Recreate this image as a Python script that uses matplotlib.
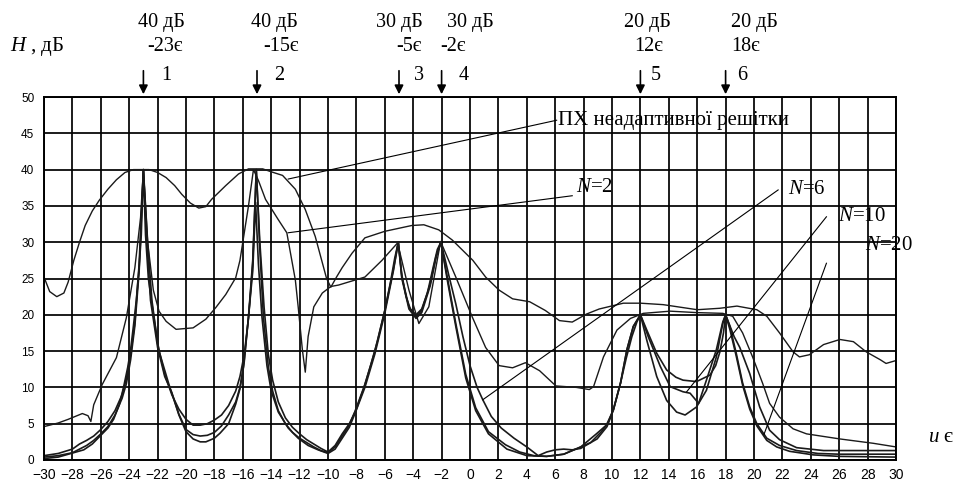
import matplotlib
matplotlib.use("Agg")
import matplotlib.pyplot as plt

# --- data (u in degrees, H in dB) ---
px_x = [-30, -29.6, -29.1, -28.6, -28.3, -27.9, -27.5, -27.1, -26.6, -26.1, -25.5, -24.9, -24.3, -23.7,
        -22.6, -22.0, -21.4, -20.8, -20.3, -19.7, -19.1, -18.6, -18.2, -17.2, -16.3, -15.6, -14.6, -14.0,
        -13.2, -12.3, -11.6, -10.9, -10.1, -9.8, -9.4, -9.0, -8.3, -7.4, -6.0, -4.1, -3.25, -2.2, -1.25,
        0.2, 1.1, 2.05, 3.0, 4.2, 5.3, 6.3, 7.2, 8.2, 9.1, 10.8, 12.0, 13.6, 16.0, 17.6, 18.8, 20.2, 20.9,
        21.8, 22.75, 23.2, 23.9, 24.9, 26.05, 27.0, 27.9, 28.9, 29.3, 30.0]
px_y = [25.2, 23.2, 22.5, 23.0, 24.5, 27.5, 30.0, 32.3, 34.3, 35.8, 37.3, 38.6, 39.6, 40.0,
        40.0, 39.6, 38.9, 37.8, 36.6, 35.4, 34.7, 34.9, 35.9, 37.8, 39.4, 40.1, 40.1, 39.7,
        39.2, 37.3, 34.5, 30.8, 25.0, 23.8, 25.2, 26.5, 28.5, 30.6, 31.5, 32.3, 32.4, 31.7, 30.3,
        27.5, 25.2, 23.4, 22.2, 21.8, 20.6, 19.2, 19.0, 20.1, 20.8, 21.6, 21.6, 21.4, 20.7, 20.9, 21.2, 20.7, 19.8,
        17.5, 14.9, 14.2, 14.5, 15.9, 16.6, 16.3, 14.9, 13.8, 13.3, 13.7]

n2_x = [-30, -29, -28.3, -27.8, -27.3, -26.9, -26.7, -26.5, -25.9, -24.9, -24.2, -23.6, -23.2, -23.0,
        -22.7, -22.3, -21.9, -21.4, -20.7, -19.5, -18.6, -17.9, -17.2, -16.5, -16.2, -15.6, -15.25,
        -14.9, -14.4, -13.5, -12.9, -12.3, -12.1, -11.8, -11.6, -11.4, -11.0, -10.4, -9.8, -9.25, -7.4,
        -6.2, -5.1, -4.3, -3.6, -2.9, -2.07, -1.0, 0.16, 1.1, 2.05, 3.0, 3.9, 4.9, 6.05, 7.5, 8.4, 8.7,
        9.4, 10.35, 11.3, 12.2, 14.1, 16.0, 17.8, 18.5, 19.2, 19.9, 20.6, 21.1, 21.8, 22.75, 23.7, 26.05,
        28.4, 30.0]
n2_y = [4.6, 5.1, 5.6, 6.0, 6.4, 6.1, 5.3, 7.6, 10.4, 14.1, 19.6, 26.5, 33.4, 40.0,
        30.0, 23.4, 20.5, 19.1, 18.0, 18.2, 19.4, 21.0, 22.8, 25.1, 27.5, 35.0, 40.0,
        38.5, 35.9, 33.1, 31.3, 24.8, 21.1, 15.1, 12.1, 17.0, 21.1, 23.0, 23.9, 24.1, 25.2,
        27.5, 29.9, 23.4, 18.8, 21.1, 30.1, 25.2, 19.7, 15.5, 13.0, 12.7, 13.4, 12.3, 10.2, 10.0, 9.7, 10.1,
        14.2, 17.9, 19.5, 20.2, 20.5, 20.3, 20.2, 19.8, 17.5, 14.2, 10.6, 7.8, 5.9, 4.3, 3.6, 2.9,
        2.3, 1.8]

n6_x = [-30, -29, -28, -27.5, -27, -26.5, -26, -25.5, -25, -24.5, -24.2, -23.9, -23.6, -23.3, -23.0,
        -22.7, -22.4, -22.0, -21.5, -21.0, -20.5, -20.0, -19.5, -19.0, -18.5, -18.0, -17.5, -17.0, -16.5,
        -16.2, -15.9, -15.6, -15.3, -15.05, -14.8, -14.5, -14.2, -13.9, -13.5, -13.0, -12.5, -12.0, -11.5,
        -11.0, -10.5, -10.0, -9.5, -9.0, -8.5, -8.0, -7.5, -7.0, -6.5, -6.0, -5.6, -5.3, -5.05, -4.8, -4.5,
        -4.2, -3.8, -3.4, -3.0, -2.6, -2.3, -2.05, -1.8, -1.5, -1.0, -0.5, 0.0, 0.5, 0.9, 1.5, 2.2, 3.1,
        4.0, 4.8, 5.4, 6.0, 6.6, 7.2, 7.8, 8.5, 9.2, 9.7, 10.1, 10.6, 11.0, 11.4, 11.75, 12.0, 12.45, 13.15,
        13.85, 14.5, 15.0, 15.95, 16.9, 17.3, 17.6, 17.85, 18.0, 18.3, 18.6, 19.0, 19.7, 20.4, 21.1, 21.8,
        23.0, 24.9, 27.0, 30.0]
n6_y = [0.6, 0.9, 1.5, 2.2, 2.7, 3.3, 4.2, 5.3, 6.8, 9.0, 11.2, 14.5, 19.0, 27.0, 40.0,
        30.0, 22.0, 16.0, 11.8, 9.0, 7.0, 5.6, 4.8, 4.8, 5.0, 5.5, 6.2, 7.5, 9.5,
        11.5, 14.5, 19.5, 27.0, 40.0, 30.0, 21.0, 14.5, 11.0, 8.0, 5.8, 4.5, 3.6, 2.8,
        2.2, 1.6, 1.1, 2.0, 3.6, 5.0, 7.0, 9.8, 13.0, 16.5, 20.6, 24.5, 27.8, 30.0, 25.5, 22.5,
        20.8, 20.0, 20.8, 23.0, 26.5, 29.0, 30.0, 28.0, 25.5, 21.5, 17.0, 13.0, 10.0, 8.3, 6.0, 4.4, 3.0,
        1.8, 0.6, 1.1, 1.4, 1.5, 1.4, 1.6, 2.4, 3.8, 5.0, 7.0, 10.6, 14.0, 17.0, 19.0, 20.0, 17.9, 14.7,
        12.4, 11.4, 11.0, 10.8, 11.7, 13.0, 14.9, 17.5, 20.0, 18.5, 17.0, 15.5, 11.9, 7.3, 4.1, 2.8,
        1.7, 1.3, 1.3, 1.3]

n10_x = [-30, -29, -28, -27.5, -27, -26.5, -26, -25.5, -25, -24.5, -24.2, -23.9, -23.6, -23.3, -23.0,
         -22.75, -22.5, -22.0, -21.5, -21.0, -20.5, -20.0, -19.5, -19.0, -18.5, -18.0, -17.5, -17.0, -16.5,
         -16.2, -15.9, -15.6, -15.3, -15.05, -14.8, -14.55, -14.2, -13.9, -13.5, -13.0, -12.5, -12.0, -11.5,
         -11.0, -10.5, -10.0, -9.5, -9.0, -8.5, -8.1, -7.4, -6.7, -6.0, -5.4, -5.05, -4.8, -4.3, -3.8, -3.4,
         -2.8, -2.4, -2.05, -1.6, -1.0, -0.3, 0.4, 1.3, 2.5, 3.5, 4.5, 5.4, 6.6, 7.8, 8.5, 8.95, 9.65, 10.1,
         10.6, 11.05, 11.5, 12.0, 12.55, 13.4, 14.1, 15.0, 15.5, 16.1, 16.65, 17.35, 17.8, 18.0, 18.3, 18.75,
         19.2, 19.7, 20.2, 20.9, 21.8, 23.0, 24.5, 26.0, 28.0, 30.0]
n10_y = [0.4, 0.6, 1.0, 1.5, 2.0, 2.7, 3.6, 4.6, 6.2, 8.5, 10.5, 13.8, 18.5, 26.0, 40.0,
         30.0, 22.0, 15.5, 11.5, 9.3, 6.3, 4.2, 3.5, 3.3, 3.4, 3.8, 4.7, 6.2, 8.0,
         10.0, 13.5, 19.7, 27.5, 40.0, 29.0, 19.7, 12.8, 9.5, 6.8, 5.0, 3.8, 3.0, 2.4,
         1.8, 1.3, 1.0, 1.8, 3.3, 4.8, 6.7, 10.4, 15.0, 20.6, 26.2, 30.0, 25.2, 21.1, 19.7, 20.6,
         24.3, 28.0, 30.0, 25.2, 18.8, 11.8, 7.2, 3.9, 2.1, 1.1, 0.6, 0.5, 0.8, 1.8, 2.4, 2.9, 4.6, 6.9,
         10.6, 15.2, 18.4, 20.0, 17.0, 12.9, 10.1, 9.4, 9.2, 7.8, 11.0, 15.2, 19.0, 20.0, 18.4, 14.7,
         10.6, 7.3, 5.0, 3.0, 2.0, 1.3, 0.9, 0.8, 0.8, 0.8]

n20_x = [-30, -29, -28.1, -27.2, -26.6, -26.1, -25.5, -25.1, -24.7, -24.4, -24.1, -23.9, -23.7, -23.5,
         -23.3, -23.15, -23.0, -22.85, -22.65, -22.4, -21.9, -21.2, -20.5, -20.0, -19.5, -19.0, -18.6,
         -18.0, -17.6, -17.0, -16.5, -16.2, -15.95, -15.6, -15.3, -15.1, -14.9, -14.65, -14.3, -14.0,
         -13.5, -12.8, -12.1, -11.4, -10.7, -10.0, -9.5, -9.0, -8.5, -8.1, -7.4, -6.7, -6.0, -5.4, -5.05,
         -4.8, -4.3, -3.8, -3.4, -2.8, -2.4, -2.05, -1.6, -1.0, -0.3, 0.4, 1.3, 2.6, 4.0, 5.4, 6.6, 7.8,
         8.9, 9.6, 10.1, 10.6, 11.05, 11.5, 12.0, 12.45, 13.15, 13.85, 14.55, 15.15, 15.95, 16.65, 17.35,
         17.8, 18.0, 18.3, 18.75, 19.2, 19.7, 20.2, 20.9, 21.6, 22.5, 24.2, 26.0, 30.0]
n20_y = [0.2, 0.4, 0.9, 1.4, 2.2, 3.2, 4.4, 5.6, 7.6, 10.0, 12.8, 15.2, 18.5, 22.0,
         26.5, 31.0, 40.0, 31.0, 25.0, 21.5, 15.0, 10.4, 6.2, 3.9, 2.9, 2.5, 2.5,
         3.0, 3.7, 5.0, 7.7, 9.8, 12.8, 19.7, 26.0, 35.5, 27.0, 19.7, 13.0, 9.5,
         6.6, 4.4, 3.0, 2.0, 1.4, 0.9, 1.5, 3.0, 4.5, 6.4, 10.0, 14.6, 20.2, 26.0, 30.0,
         25.0, 20.8, 19.5, 20.3, 24.0, 27.8, 30.0, 24.8, 18.4, 11.3, 6.8, 3.6, 1.5, 0.6, 0.5, 0.8, 1.8,
         3.6, 4.8, 6.9, 10.6, 15.2, 18.4, 20.0, 16.5, 11.5, 8.2, 6.6, 6.2, 7.3, 9.6, 14.2,
         18.8, 20.0, 18.0, 14.3, 10.3, 7.0, 4.7, 2.7, 1.8, 1.2, 0.7, 0.5, 0.4]

# interference sources marked on top
src_pos = [-23, -15, -5, -2, 12, 18]
src_level = ["40 дБ", "40 дБ", "30 дБ", "30 дБ", "20 дБ", "20 дБ"]
src_angle = ["-23є", "-15є", "-5є", "-2є", "12є", "18є"]
src_num = ["1", "2", "3", "4", "5", "6"]

# curve labels: text, where the text sits, where the leader ends
curve_labels = ["ПХ неадаптивної решітки", "$N$=2", "$N$=6", "$N$=10", "$N$=20"]
label_xy = [(6.2, 46.7), (7.5, 37.5), (22.4, 37.3), (25.9, 33.6), (27.8, 29.5)]
leader_from = [(6.1, 46.8), (7.2, 36.4), (21.7, 37.2), (25.1, 33.5), (25.1, 27.1)]
leader_to = [(-12.8, 38.7), (-12.8, 31.3), (0.9, 8.3), (15.26, 9.4), (20.7, 3.5)]

plt.rcParams["font.family"] = ["Liberation Serif", "DejaVu Serif"]
plt.rcParams["mathtext.fontset"] = "custom"
plt.rcParams["mathtext.it"] = "Liberation Serif:italic"
plt.rcParams["mathtext.rm"] = "Liberation Serif"

fig = plt.figure(figsize=(9.6, 4.84), dpi=100)
ax = fig.add_axes([44 / 960, 24 / 484, 852 / 960, 363 / 484])
ax.set_xlim(-30, 30)
ax.set_ylim(0, 50)
ax.set_xticks(range(-30, 31, 2))
ax.set_yticks(range(0, 51, 5))
ax.grid(True, color="black", lw=1.25)
ax.set_axisbelow(True)
for s in ax.spines.values():
    s.set_linewidth(1.4)
ax.tick_params(length=0)
ax.tick_params(axis="x", pad=6)
ax.tick_params(axis="y", pad=7)
for lab in ax.get_xticklabels():
    lab.set_fontfamily("Liberation Sans")
    lab.set_fontsize(10)
for lab in ax.get_yticklabels():
    lab.set_fontfamily("Liberation Sans")
    lab.set_fontsize(8.5)

line_col = "#1a1a1a"
ax.plot(px_x, px_y, color=line_col, lw=1.0)
ax.plot(n2_x, n2_y, color=line_col, lw=1.0)
ax.plot(n6_x, n6_y, color=line_col, lw=1.2)
ax.plot(n10_x, n10_y, color=line_col, lw=1.2)
ax.plot(n20_x, n20_y, color=line_col, lw=1.2)

# leaders and curve labels
for txt, (tx, ty), p0, p1 in zip(curve_labels, label_xy, leader_from, leader_to):
    ax.plot([p0[0], p1[0]], [p0[1], p1[1]], color="black", lw=0.8, clip_on=False)
    ax.text(tx, ty, txt, fontsize=15, ha="left", va="center", clip_on=False)

# source markers above the grid
level_dx = [1.3, 1.2, 0.0, 2.0, 0.5, 2.0]
angle_dx = [1.5, 1.7, 0.7, 0.8, 0.6, 1.4]
num_dx = [1.6, 1.55, 1.4, 1.55, 1.1, 1.2]
for x, lv, an, nm, d1, d2, d3 in zip(src_pos, src_level, src_angle, src_num, level_dx, angle_dx, num_dx):
    ax.annotate("", xy=(x, 50), xytext=(x, 54.0),
                arrowprops=dict(arrowstyle="-|>", color="black", lw=1.2, mutation_scale=13),
                annotation_clip=False)
    ax.text(x + d1, 60.3, lv, fontsize=14.5, ha="center", va="center", clip_on=False)
    ax.text(x + d2, 56.9, an, fontsize=14.5, ha="center", va="center", clip_on=False)
    ax.text(x + d3, 52.9, nm, fontsize=14.5, ha="center", va="center", clip_on=False)

fig.text(10 / 960, 1 - 47 / 484, "$H$ , дБ", fontsize=15, ha="left", va="center")
fig.text(928 / 960, 1 - 438 / 484, "$u$ є", fontsize=15, ha="left", va="center")

fig.savefig("out.png", dpi=100)
